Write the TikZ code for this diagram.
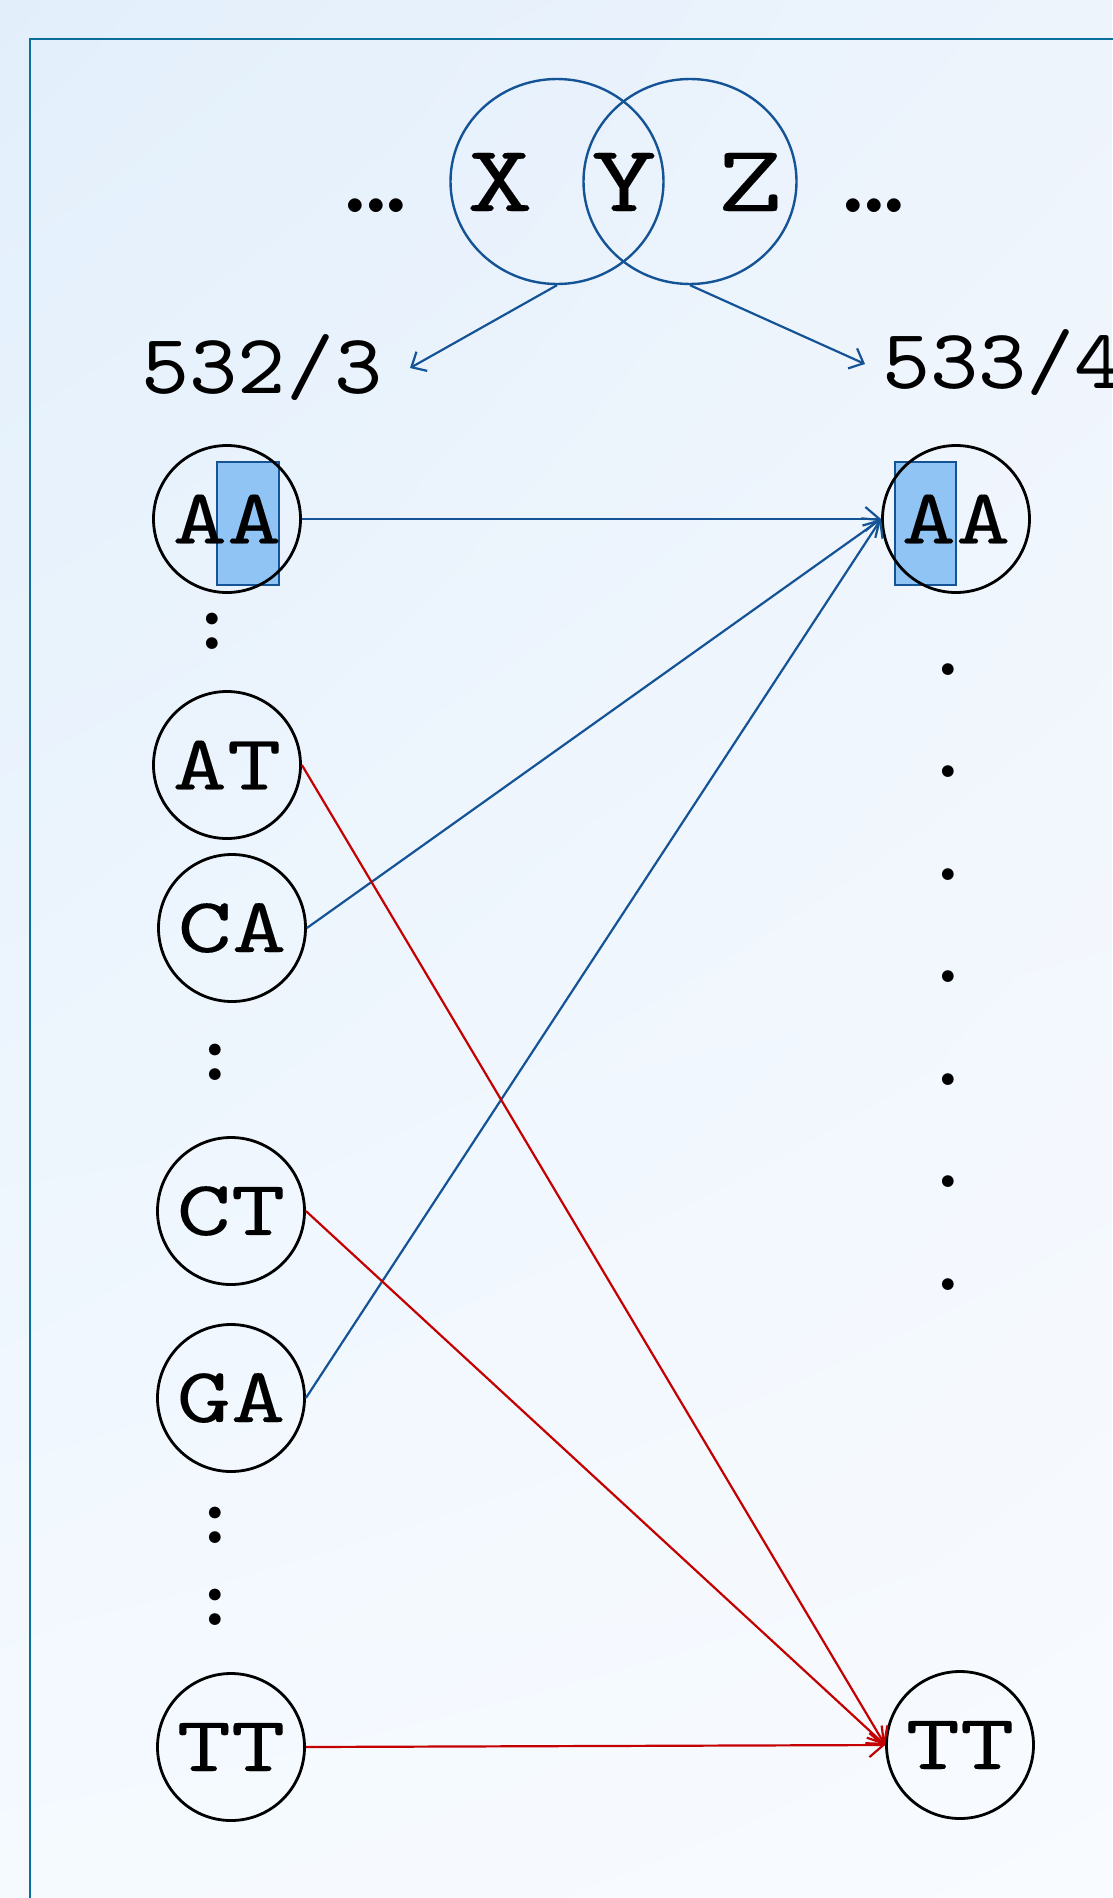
\documentclass[tikz,border=0pt]{standalone}
\usepackage{fontspec}
\usetikzlibrary{arrows.meta,shapes.geometric,shadings}
\newfontfamily\seqfont[FakeStretch=1.32,FakeBold=0.12]{lmmono10-regular.otf}
\newfontfamily\numfont[FakeStretch=1.08]{lmmono10-regular.otf}
\definecolor{bgtl}{RGB}{226,239,251}
\definecolor{bgtr}{RGB}{238,244,252}
\definecolor{bgbl}{RGB}{245,250,255}
\definecolor{bgbr}{RGB}{248,251,255}
\definecolor{framec}{RGB}{10,111,155}
\definecolor{vblue}{RGB}{20,84,150}
\definecolor{vred}{RGB}{196,0,0}
\definecolor{hlfill}{RGB}{144,196,244}
\newcommand\tightdots{.\kern-9pt.\kern-9pt.}
\begin{document}
\begin{tikzpicture}[x=1pt,y=-1pt,
  seq/.style={circle,draw=black,line width=2.8pt,minimum size=147pt,inner sep=0pt,
    font=\seqfont\fontsize{78.5}{80}\selectfont},
  letter/.style={inner sep=0pt,font=\seqfont\fontsize{95}{96}\selectfont},
  numlbl/.style={inner sep=0pt,font=\numfont\fontsize{85}{86}\selectfont},
  oval/.style={ellipse,draw=vblue,line width=2.4pt,minimum width=213pt,minimum height=205pt,inner sep=0pt},
  dotmark/.style={inner sep=0pt,font=\rmfamily\bfseries\fontsize{82}{84}\selectfont},
  bigdots/.style={inner sep=0pt,font=\rmfamily\bfseries\fontsize{95}{96}\selectfont},
  hl/.style={fill=hlfill,draw=vblue,line width=2.4pt},
  bconn/.style={draw=vblue,line width=2.2pt,-{Straight Barb[length=14pt,width=24pt,line width=2.2pt]}},
  rconn/.style={draw=vred,line width=2.2pt,-{Straight Barb[length=14pt,width=24pt,line width=2.2pt]}},
  varrow/.style={draw=vblue,line width=2.2pt,-{Straight Barb[length=12pt,width=22pt,line width=2.2pt]}}]
\useasboundingbox (0,0) rectangle (1112,1898);
% background and frame
\shade[upper left=bgtl,upper right=bgtr,lower left=bgbl,lower right=bgbr] (0,0) rectangle (1112,1898);
\draw[framec,line width=2.6pt] (30,39) rectangle (1160,1960);

% X Y Z with the two overlapping windows
\node[oval] (ex) at (557,181.5) {};
\node[oval] (ez) at (690,181.5) {};
\node[letter,anchor=base] (lx) at (500,211) {X};
\node[letter,anchor=base] (ly) at (624,211) {Y};
\node[letter,anchor=base] (lz) at (750,211) {Z};
\node[bigdots,anchor=base] (lel) at (376,212) {\tightdots};
\node[bigdots,anchor=base] (rel) at (874,212) {\tightdots};

% column labels
\node[numlbl,anchor=base] (n532) at (262,393) {532/3};
\node[numlbl,anchor=base west] (n533) at (882,388) {533/4};
\coordinate (t532) at (410,368);
\coordinate (t533) at (865,364);
\draw[varrow] (ex.south) -- (t532);
\draw[varrow] (ez.south) -- (t533);

% highlighted overlap symbol
\draw[hl] (217,462) rectangle (279,585);
\draw[hl] (895,462) rectangle (956,585);

% left column
\node[seq] (lAA) at (227,519) {AA};
\node[seq] (lAT) at (227,765) {AT};
\node[seq] (lCA) at (232,928) {CA};
\node[seq] (lCT) at (231,1211) {CT};
\node[seq] (lGA) at (231,1398) {GA};
\node[seq] (lTT) at (231,1747) {TT};
\node[dotmark,anchor=base] (c1) at (212,649) {:};
\node[dotmark,anchor=base] (c2) at (215,1080) {:};
\node[dotmark,anchor=base] (c3) at (215,1543) {:};
\node[dotmark,anchor=base] (c4) at (215,1625) {:};

% right column
\node[seq] (rAA) at (956,519) {AA};
\node[seq] (rTT) at (960,1745) {TT};
\foreach \i in {0,...,6}
  \node[dotmark,anchor=base] (rd\i) at (948,{675+102.5*\i}) {.};

% transitions
\draw[bconn] (lAA.east) -- (rAA.west);
\draw[bconn] (lCA.east) -- (rAA.west);
\draw[bconn] (lGA.east) -- (rAA.west);
\draw[rconn] (lAT.east) -- (rTT.west);
\draw[rconn] (lCT.east) -- (rTT.west);
\draw[rconn] (lTT.east) -- (rTT.west);
\end{tikzpicture}
\end{document}
